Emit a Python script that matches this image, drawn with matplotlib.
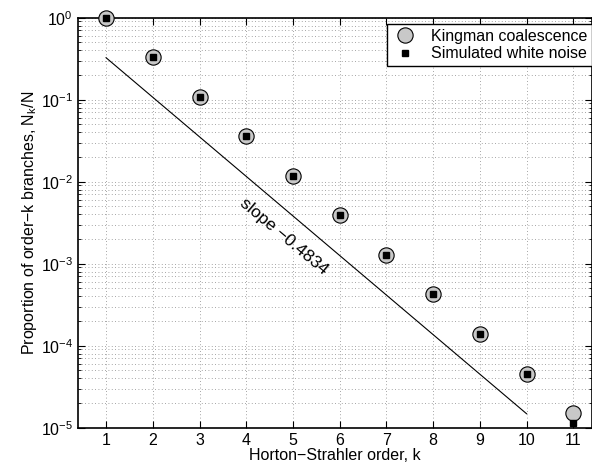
import matplotlib
matplotlib.use("Agg")
import matplotlib.pyplot as plt
from matplotlib.ticker import LogLocator, FixedLocator, NullFormatter

plt.rcParams['font.family'] = ['Liberation Sans', 'DejaVu Sans']
plt.rcParams['mathtext.fontset'] = 'custom'
plt.rcParams['mathtext.rm'] = 'Liberation Sans'
plt.rcParams['mathtext.it'] = 'Liberation Sans'

# order k
orders = [1, 2, 3, 4, 5, 6, 7, 8, 9, 10, 11]
# Kingman coalescence (circles)
kingman = [1.0, 0.329, 0.109, 0.0357, 0.0117, 0.00393, 0.00128,
           4.24e-4, 1.38e-4, 4.52e-5, 1.5e-5]
# simulated white noise (squares)
white_noise = [1.0, 0.329, 0.109, 0.0357, 0.0117, 0.00393, 0.00128,
               4.24e-4, 1.38e-4, 4.52e-5, 1.15e-5]
# fitted line end points
fit_k = [1, 10]
fit_vals = [0.325, 1.48e-5]

fig = plt.figure(figsize=(5.92, 4.68), dpi=100)
ax = fig.add_axes([0.1318, 0.0861, 0.8682, 0.8761])

ax.plot(fit_k, fit_vals, color='k', linewidth=0.8)
ax.semilogy(orders, kingman, 'o', markersize=11, markerfacecolor='#c8c8c8',
            markeredgecolor='k', markeredgewidth=0.8, label='Kingman coalescence',
            clip_on=False, zorder=3)
ax.semilogy(orders, white_noise, 's', markersize=5, color='k',
            label='Simulated white noise', clip_on=False, zorder=4)

ax.text(4.8, 2.15e-3, 'slope \u22120.4834', rotation=-40, fontsize=12.5,
        ha='center', va='center', rotation_mode='anchor')

ax.set_xlim(0.4, 11.4)
ax.set_ylim(1e-5, 1)
ax.xaxis.set_major_locator(FixedLocator(orders))
ax.yaxis.set_major_locator(LogLocator(base=10, numticks=10))
ax.yaxis.set_minor_locator(LogLocator(base=10, subs=range(2, 10), numticks=20))
ax.yaxis.set_minor_formatter(NullFormatter())

ax.grid(True, which='major', axis='both', linestyle=(0, (1, 3)), color='#888888', linewidth=0.6)
ax.grid(True, which='minor', axis='y', linestyle=(0, (1, 3)), color='#888888', linewidth=0.6)

ax.tick_params(which='both', direction='in', top=True, right=True, labelsize=11.5)
ax.tick_params(which='major', length=5)
ax.tick_params(which='minor', length=2.5)
for s in ax.spines.values():
    s.set_linewidth(1.2)

ax.set_xlabel('Horton\u2212Strahler order, k', fontsize=11.5, labelpad=0)
ax.set_ylabel('Proportion of order\u2212k branches, N$_k$/N', fontsize=11.5, labelpad=1)

leg = ax.legend(loc='upper right', bbox_to_anchor=(0.9995, 0.984), fontsize=11.5,
                frameon=True, fancybox=False, edgecolor='k', framealpha=1,
                borderpad=0.3, handletextpad=0.8, labelspacing=0.15,
                handlelength=1.6, borderaxespad=0)
leg.get_frame().set_linewidth(1.0)

fig.savefig('out.png', dpi=100)
